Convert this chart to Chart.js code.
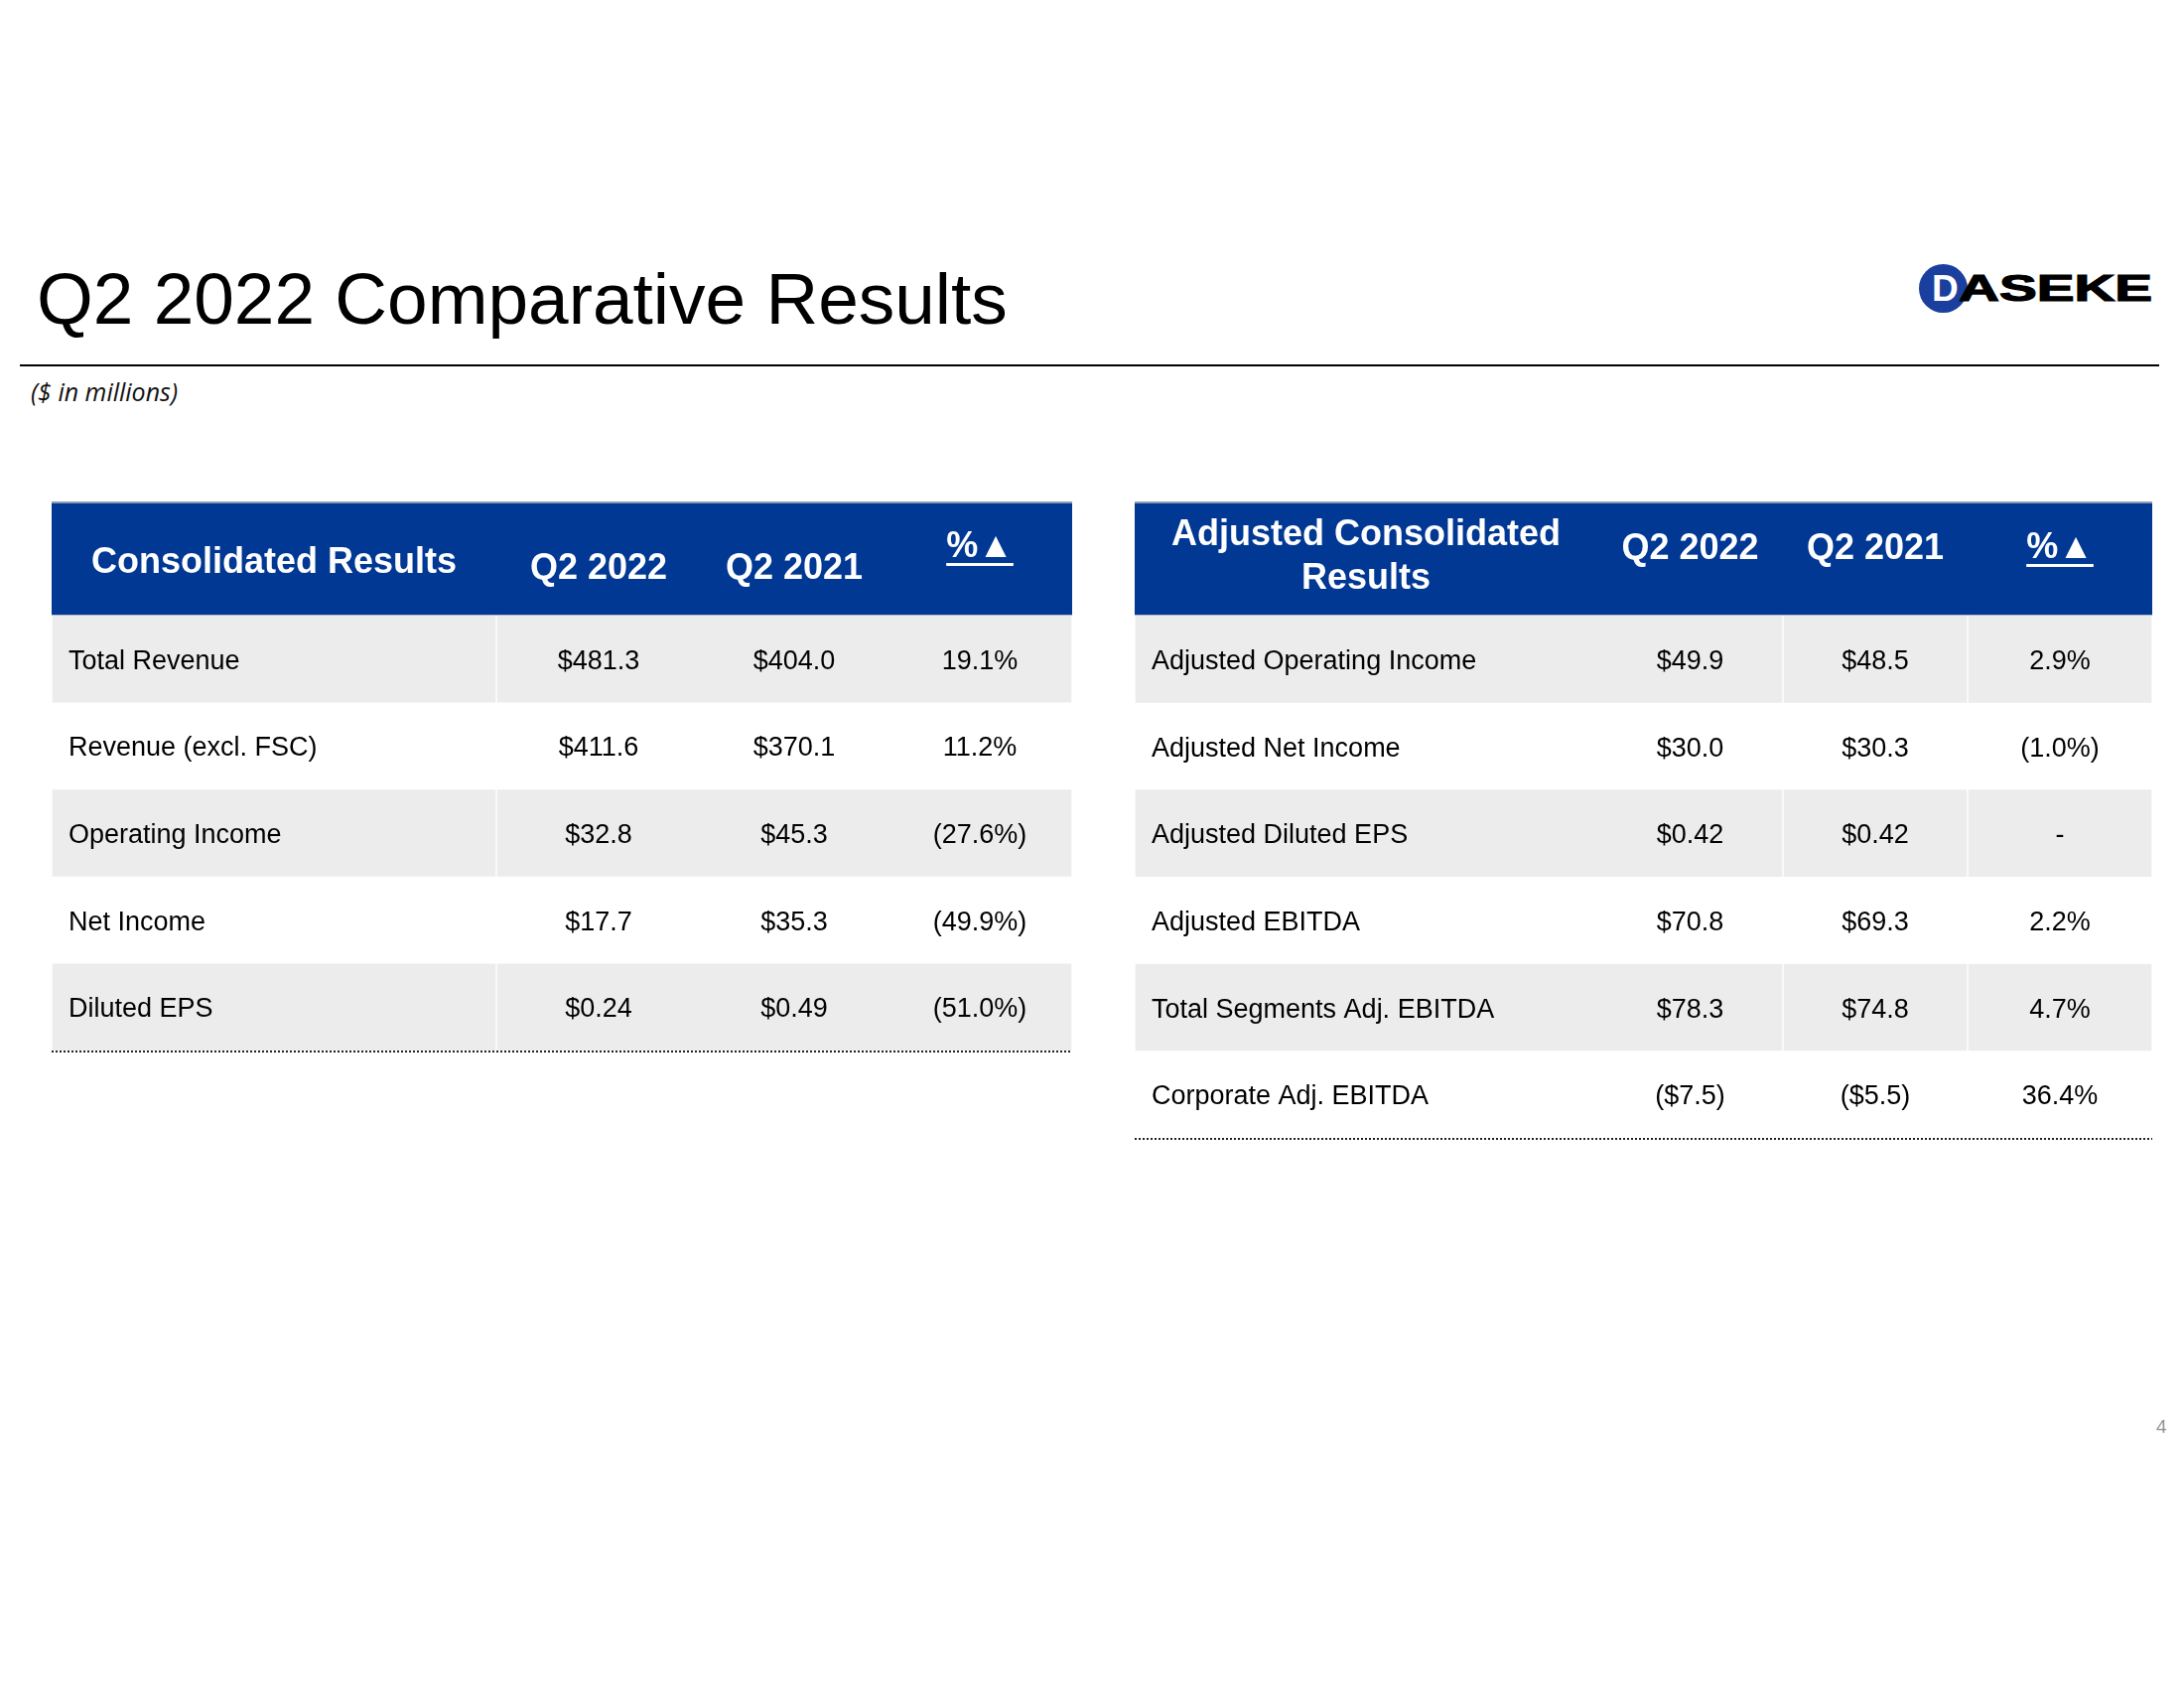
<!DOCTYPE html>
<html>
<head>
<meta charset="utf-8">
<title>Q2 2022 Comparative Results</title>
<script src="https://cdn.jsdelivr.net/npm/chart.js@4.4.0/dist/chart.umd.min.js"></script>
<style>
  body { margin: 0; width: 2200px; height: 1700px; background: #fff; position: relative; overflow: hidden;
         font-family: "Liberation Sans", Arial, sans-serif; }
  .title { position: absolute; left: 37px; top: 264px; font-size: 73px; line-height: 73px; color: #000; white-space: nowrap; }
  .rule { position: absolute; left: 20px; top: 367px; width: 2155px; height: 2px; background: #000; }
  .sub { position: absolute; left: 31px; top: 379px; font-family: "Open Sans", sans-serif; font-style: italic;
         font-size: 25px; line-height: 30px; color: #111; white-space: nowrap; }
  .logo-circle { position: absolute; left: 1933px; top: 266px; width: 49px; height: 49px; border-radius: 50%; background: #1b3f9f; }
  .logo-d { position: absolute; left: 1946px; top: 272px; font-size: 37px; line-height: 37px; font-weight: bold; color: #fff; }
  .logo-text { position: absolute; left: 1973px; top: 272px; font-size: 37px; line-height: 37px; font-weight: bold; color: #000;
               -webkit-text-stroke: 1.2px #000; transform: scaleX(1.53); transform-origin: left top; white-space: nowrap; }
  .pagenum { position: absolute; left: 2172px; top: 1427px; font-family: "Open Sans", sans-serif; font-size: 18px; line-height: 18px; color: #8c8c8c; }
  canvas { position: absolute; }
</style>
</head>
<body>
<div class="title">Q2 2022 Comparative Results</div>
<div class="logo-circle"></div>
<div class="logo-d">D</div>
<div class="logo-text">ASEKE</div>
<div class="rule"></div>
<div class="sub">($ in millions)</div>
<canvas id="leftTable" width="1028" height="568" style="left:52px; top:500px;"></canvas>
<canvas id="rightTable" width="1025" height="656" style="left:1143px; top:500px;"></canvas>
<div class="pagenum">4</div>

<script>
// table data
const columnLabels = ['Q2 2022', 'Q2 2021', '%▲'];

const leftHeader = ['Consolidated Results'];
const leftCategories = ['Total Revenue', 'Revenue (excl. FSC)', 'Operating Income', 'Net Income', 'Diluted EPS'];
const leftQ2022 = [481.3, 411.6, 32.8, 17.7, 0.24];
const leftQ2021 = [404.0, 370.1, 45.3, 35.3, 0.49];
const leftChange = [19.1, 11.2, -27.6, -49.9, -51.0];

const rightHeader = ['Adjusted Consolidated', 'Results'];
const rightCategories = ['Adjusted Operating Income', 'Adjusted Net Income', 'Adjusted Diluted EPS',
                         'Adjusted EBITDA', 'Total Segments Adj. EBITDA', 'Corporate Adj. EBITDA'];
const rightQ2022 = [49.9, 30.0, 0.42, 70.8, 78.3, -7.5];
const rightQ2021 = [48.5, 30.3, 0.42, 69.3, 74.8, -5.5];
const rightChange = [2.9, -1.0, null, 2.2, 4.7, 36.4];

// look
const BLUE = '#013893';
const STRIPE = '#ececec';
const FONT = '"Liberation Sans", Arial, sans-serif';
const HEADER_H = 115;

const leftLayout = { width: 1028, edges: [0, 448, 654, 842, 1028], splits: [448], labelX: 17,
                     labelY: [72], yearY: 78, pctY: 56, lineY: 62 };
const rightLayout = { width: 1025, edges: [0, 466, 653, 839, 1025], splits: [653, 839], labelX: 17,
                      labelY: [44, 88], yearY: 58, pctY: 57, lineY: 63 };

function fmtMoney(v) {
    const s = '$' + Math.abs(v).toFixed(Math.abs(v) < 1 ? 2 : 1);
    return v < 0 ? '(' + s + ')' : s;
}

function fmtPct(v) {
    if (v === null) return '-';
    const s = Math.abs(v).toFixed(1) + '%';
    return v < 0 ? '(' + s + ')' : s;
}

function makeTable(id, header, cats, q22, q21, chg, lay) {
    const bounds = [0, ...lay.splits, lay.width];
    const centers = [];
    for (let k = 0; k < lay.edges.length - 1; k++) centers.push((lay.edges[k] + lay.edges[k + 1]) / 2);

    // gray stripes on every other row, one dataset per cell segment
    const datasets = [];
    for (let s = 0; s < bounds.length - 1; s++) {
        datasets.push({
            label: 'stripe' + s,
            data: cats.map((c, i) => i % 2 === 0 ? [bounds[s], bounds[s + 1]] : null),
            backgroundColor: STRIPE,
            borderColor: '#ffffff',
            borderWidth: { left: 1, right: 1, top: 0, bottom: 0 },
            borderSkipped: false,
            grouped: false,
            barPercentage: 1,
            categoryPercentage: 1
        });
    }

    const tablePlugin = {
        id: 'tableText',
        beforeDatasetsDraw(chart) {
            const { ctx, chartArea: a, scales: { x } } = chart;
            const top = a.top - HEADER_H;
            const w = a.right - a.left;
            ctx.save();
            ctx.fillStyle = BLUE;
            ctx.fillRect(a.left, top, w, HEADER_H);
            ctx.fillStyle = '#8f9cb6';
            ctx.fillRect(a.left, top, w, 2);
            ctx.fillStyle = '#b4bac4';
            ctx.fillRect(a.left, a.top - 1, w, 2);

            ctx.fillStyle = '#fff';
            ctx.textAlign = 'center';
            ctx.textBaseline = 'alphabetic';
            ctx.font = 'bold 36px ' + FONT;
            header.forEach((line, k) => ctx.fillText(line, x.getPixelForValue(centers[0]), top + lay.labelY[k]));
            columnLabels.forEach((t, k) => {
                const cx = x.getPixelForValue(centers[k + 1]);
                if (k < 2) {
                    ctx.fillText(t, cx, top + lay.yearY);
                } else {
                    ctx.fillText(t, cx, top + lay.pctY);
                    const tw = ctx.measureText(t).width;
                    ctx.fillRect(cx - tw / 2, top + lay.lineY, tw, 3);
                }
            });
            ctx.restore();
        },
        afterDatasetsDraw(chart) {
            const { ctx, chartArea: a, scales: { x, y } } = chart;
            ctx.save();
            ctx.fillStyle = '#000';
            ctx.font = '27px ' + FONT;
            ctx.textBaseline = 'alphabetic';
            cats.forEach((c, i) => {
                const py = y.getPixelForValue(i) + 10;
                ctx.textAlign = 'left';
                ctx.fillText(c, x.getPixelForValue(lay.labelX), py);
                ctx.textAlign = 'center';
                ctx.fillText(fmtMoney(q22[i]), x.getPixelForValue(centers[1]), py);
                ctx.fillText(fmtMoney(q21[i]), x.getPixelForValue(centers[2]), py);
                ctx.fillText(fmtPct(chg[i]), x.getPixelForValue(centers[3]), py);
            });

            // dotted rule under the table
            ctx.strokeStyle = '#222';
            ctx.lineWidth = 2;
            ctx.setLineDash([2, 2]);
            ctx.beginPath();
            ctx.moveTo(a.left, a.bottom + 1);
            ctx.lineTo(a.right, a.bottom + 1);
            ctx.stroke();
            ctx.restore();
        }
    };

    return new Chart(document.getElementById(id), {
        type: 'bar',
        data: { labels: cats, datasets: datasets },
        options: {
            indexAxis: 'y',
            responsive: false,
            animation: false,
            layout: { padding: { top: 120, bottom: 10, left: 0, right: 0 } },
            plugins: { legend: { display: false }, tooltip: { enabled: false } },
            scales: {
                x: { type: 'linear', min: 0, max: lay.width, display: false },
                y: { type: 'category', display: false }
            }
        },
        plugins: [tablePlugin]
    });
}

makeTable('leftTable', leftHeader, leftCategories, leftQ2022, leftQ2021, leftChange, leftLayout);
makeTable('rightTable', rightHeader, rightCategories, rightQ2022, rightQ2021, rightChange, rightLayout);
</script>
</body>
</html>
